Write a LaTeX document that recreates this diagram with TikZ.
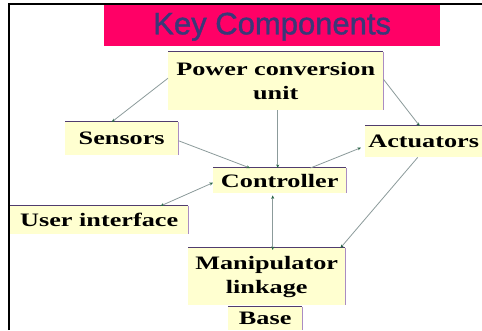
\documentclass[tikz,border=0pt]{standalone}
\usepackage{fontspec}
\setmainfont{Liberation Serif}[FakeStretch=1.38]
\newfontfamily\titlefont{Liberation Sans}[FakeBold=1.2]
\usetikzlibrary{arrows.meta,calc}
\definecolor{boxfill}{RGB}{255,255,208}
\definecolor{topedge}{RGB}{80,60,110}
\definecolor{sideedge}{RGB}{170,140,195}
\definecolor{linkgray}{RGB}{140,155,155}
\definecolor{tipgreen}{RGB}{40,100,70}
\definecolor{titlepink}{RGB}{255,0,102}
\definecolor{titletext}{RGB}{58,56,120}
\tikzset{
  x=1pt,y=-1pt,
  compbox/.style={fill=boxfill, inner sep=0pt, align=center, anchor=north west,
    font=\bfseries\fontsize{19}{24}\selectfont,
    append after command={
      \pgfextra{\draw[topedge,line width=1.6pt] (\tikzlastnode.north west) -- (\tikzlastnode.north east);
      \draw[sideedge,line width=1.6pt] (\tikzlastnode.north east) -- (\tikzlastnode.south east);}
    }},
  link/.style={draw=linkgray, line width=0.8pt, -{Stealth[length=3.5pt,width=3pt,color=tipgreen]}},
  biglink/.style={draw=linkgray, line width=0.8pt, {Stealth[length=3.5pt,width=3pt,color=tipgreen]}-{Stealth[length=3.5pt,width=3pt,color=tipgreen]}},
}
\begin{document}
\begin{tikzpicture}
\useasboundingbox (0,0) rectangle (482,330);
\fill[white] (0,0) rectangle (482,330);
\draw[black, line width=1.5pt] (9,330) -- (9,4) -- (482,4);
\node[fill=titlepink, minimum width=336pt, minimum height=41pt, inner sep=0pt, anchor=north west] (title) at (104,5) {};
\node[text=titletext, font=\titlefont\fontsize{31}{33}\selectfont, inner sep=0pt] (titletxt) at ([yshift=-1pt]title.center) {Key Components};
\node[compbox, minimum width=215pt, minimum height=58pt] (pcu) at (168,52) {Power conversion\\unit};
\node[compbox, minimum width=113pt, minimum height=33pt] (sens) at (65,122) {Sensors};
\node[compbox, minimum width=117pt, minimum height=31pt] (act) at (365,126) {Actuators};
\node[compbox, minimum width=133pt, minimum height=25pt] (ctrl) at (213,168) {Controller};
\node[compbox, minimum width=178pt, minimum height=28pt] (ui) at (10,206) {User interface};
\node[compbox, minimum width=157pt, minimum height=57pt] (manip) at (188,248) {Manipulator\\linkage};
\node[compbox, minimum width=74pt, minimum height=23pt] (base) at (228,307) {Base};
\draw[link] ([yshift=3pt]pcu.west) -- ([xshift=-10pt]sens.north);
\draw[link] ([yshift=2pt]pcu.east) -- ([xshift=-4pt]act.north);
\draw[link] ([xshift=2pt]pcu.south) -- ([xshift=2pt]pcu.south |- ctrl.north);
\draw[link] ([yshift=-2pt]sens.east) -- ([xshift=37pt]ctrl.north west);
\draw[link] ([xshift=-36pt]ctrl.north east) -- ([xshift=-4pt,yshift=-6pt]act.west);
\draw[biglink] ([yshift=-2pt]ctrl.west) -- ([xshift=-28pt]ui.north east);
\draw[biglink] ([xshift=-7pt,yshift=-2pt]ctrl.south) -- ([xshift=-7pt,yshift=-2pt]ctrl.south |- manip.north);
\draw[link] ([xshift=-6pt]act.south) -- ([xshift=-5pt]manip.north east);
\end{tikzpicture}
\end{document}
